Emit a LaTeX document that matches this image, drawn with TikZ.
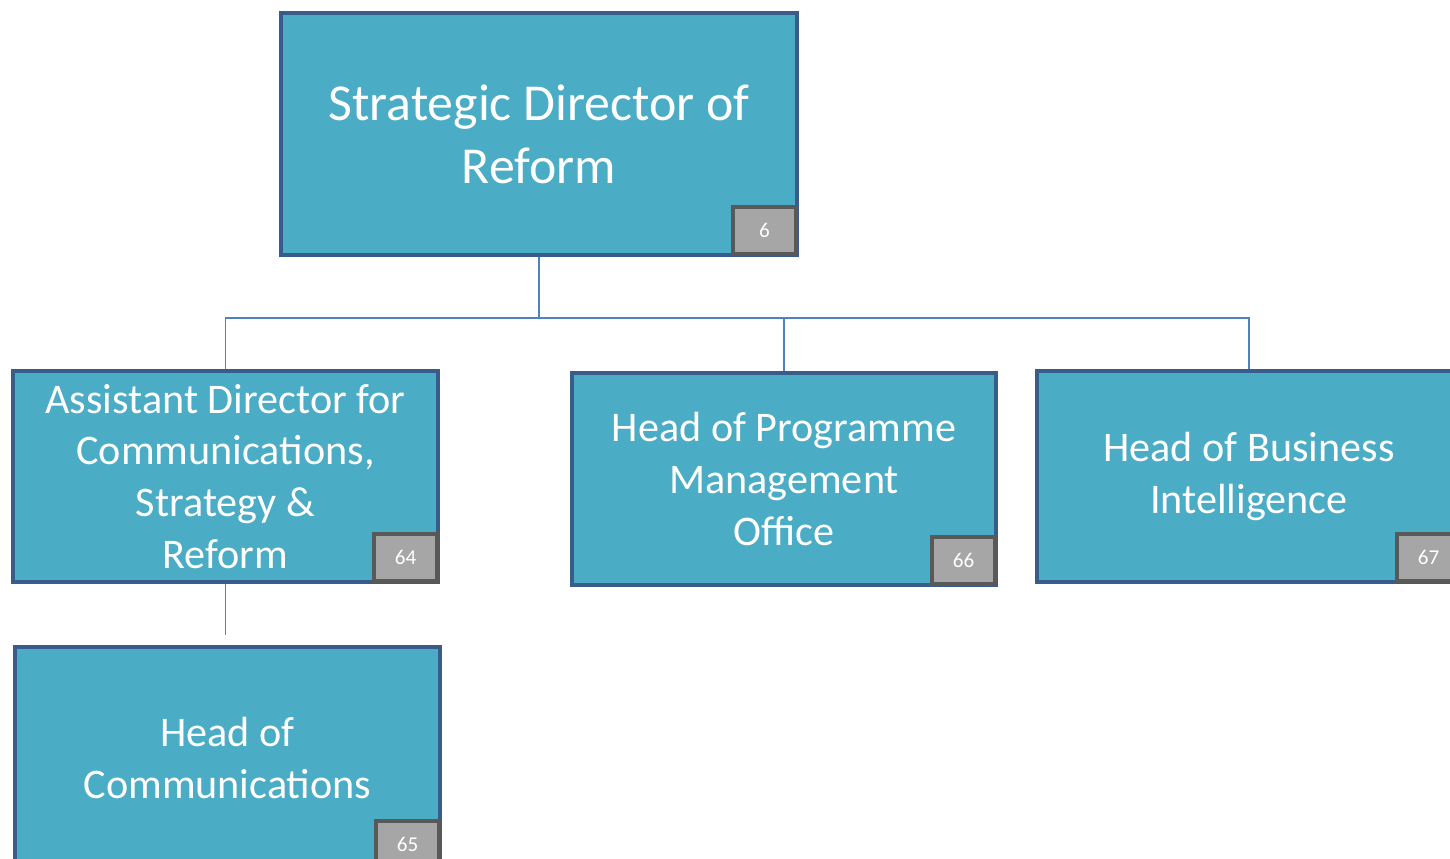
\documentclass[tikz,border=0pt]{standalone}
\usepackage{fontspec}
\setmainfont{Carlito}
\usepackage{tikz}
\usetikzlibrary{positioning}
\definecolor{boxfill}{HTML}{4BACC6}
\definecolor{boxline}{HTML}{385D8A}
\definecolor{linkblue}{HTML}{4F81BD}
\definecolor{badgefill}{HTML}{A6A6A6}
\definecolor{badgeline}{HTML}{595959}
\tikzset{
  post/.style={draw=boxline, fill=boxfill, line width=2.2pt, text=white,
    align=center, inner sep=0pt, font=\fontsize{24}{29.5}\selectfont},
  badge/.style={draw=badgeline, fill=badgefill, line width=2.2pt, text=white,
    minimum width=1.26cm, minimum height=0.94cm, inner sep=0pt,
    font=\fontsize{12}{14}\selectfont},
  link/.style={draw=linkblue, line width=1.1pt}
}

\begin{document}
\begin{tikzpicture}
        \useasboundingbox (0,0) rectangle (29,-17.16);

        % posts
        \node[post, minimum width=10.32cm, minimum height=4.84cm,
              font=\fontsize{29.5}{36}\selectfont] (sdr) at (10.78,-2.68)
              {Strategic Director of\\Reform};
        \node[post, minimum width=8.5cm, minimum height=4.22cm] (acd) at (4.51,-9.53)
              {Assistant Director for\\Communications,\\Strategy \&\\Reform};
        \node[post, minimum width=8.48cm, minimum height=4.24cm] (hpm) at (15.68,-9.58)
              {Head of Programme\\Management\\Office};
        \node[post, minimum width=8.48cm, minimum height=4.22cm] (hbi) at (24.98,-9.53)
              {Head of Business\\Intelligence};
        \node[post, minimum width=8.5cm, minimum height=4.44cm] (hoc) at (4.55,-15.16)
              {Head of\\Communications};

        % badges
        \node[badge, anchor=south east] (b6)  at ([xshift=-0.02cm,yshift=0.02cm]sdr.south east) {6};
        \node[badge, anchor=south east] (b64) at ([xshift=-0.02cm,yshift=0.02cm]acd.south east) {64};
        \node[badge, anchor=south east] (b66) at ([xshift=-0.02cm,yshift=0.02cm]hpm.south east) {66};
        \node[badge, anchor=south east] (b67) at ([xshift=-0.02cm,yshift=0.02cm]hbi.south east) {67};
        \node[badge, anchor=south east] (b65) at ([xshift=-0.02cm,yshift=0.02cm]hoc.south east) {65};

        % connectors
        \coordinate (bus) at (10.78,-6.36);
        \coordinate (stub) at (4.51,-12.7);
        \draw[link] (sdr.south) -- (bus);
        \draw[link] (bus) -| (acd.north);
        \draw[link] (bus) -| (hpm.north);
        \draw[link] (bus) -| (hbi.north);
        \draw[link] (acd.south) -- (stub);
\end{tikzpicture}
\end{document}
